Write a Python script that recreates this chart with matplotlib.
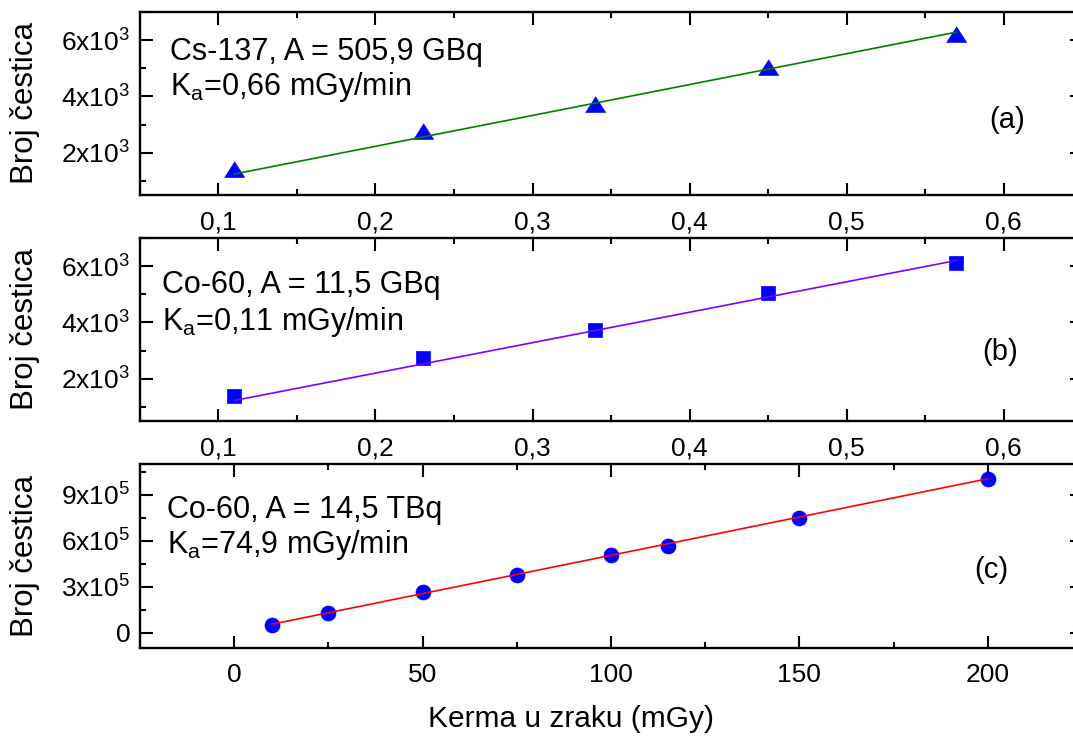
import matplotlib
matplotlib.use("Agg")
import matplotlib.pyplot as plt
from matplotlib.ticker import MultipleLocator, FuncFormatter

plt.rcParams["font.family"] = ["Liberation Sans", "DejaVu Sans"]
plt.rcParams["mathtext.default"] = "regular"

# panel (a): Cs-137
kerma_a = [0.11, 0.23, 0.34, 0.45, 0.57]
counts_a = [1410, 2770, 3750, 5040, 6210]
fit_a = [10960, 38]          # slope, intercept

# panel (b): Co-60, 11,5 GBq
kerma_b = [0.11, 0.23, 0.34, 0.45, 0.57]
counts_b = [1400, 2740, 3720, 5050, 6120]
fit_b = [10810, 39]

# panel (c): Co-60, 14,5 TBq
kerma_c = [10, 25, 50, 75, 100, 115, 150, 200]
counts_c = [52000, 130000, 265000, 378000, 508000, 567000, 750000, 1004000]
fit_c = [4995, 5000]

titles = [
	["Cs-137, A = 505,9 GBq", "K$_a$=0,66 mGy/min"],
	["Co-60, A = 11,5 GBq", "K$_a$=0,11 mGy/min"],
	["Co-60, A = 14,5 TBq", "K$_a$=74,9 mGy/min"],
]
tags = ["(a)", "(b)", "(c)"]

W, H = 1073, 736


def sci_label(v, pos):
	if v == 0:
		return "0"
	exp = 0
	m = abs(v)
	while m >= 10:
		m /= 10.
		exp += 1
	return "%dx10$^{%d}$" % (round(v / 10**exp), exp)


def comma_label(v, pos):
	return ("%.1f" % v).replace(".", ",")


def px_axes(fig, left, top, right, bottom):
	return fig.add_axes([left / W, 1 - bottom / H, (right - left) / W,
		(bottom - top) / H])


def style(ax):
	for s in ax.spines.values():
		s.set_linewidth(1.7)
	ax.tick_params(which = "both", direction = "in", top = True, right = True,
		width = 1.5, labelsize = 19)
	ax.tick_params(which = "major", length = 9)
	ax.tick_params(which = "minor", length = 4.5)
	ax.tick_params(axis = "x", pad = 11)
	ax.tick_params(axis = "y", pad = 7)


fig = plt.figure(figsize = (W / 100, H / 100), dpi = 100)
axes = [
	px_axes(fig, 140, 12, 1082, 195),
	px_axes(fig, 140, 238, 1082, 421),
	px_axes(fig, 140, 464, 1082, 648),
]

tri = [(-1, -0.78), (1, -0.78), (0, 0.78)]
series = [
	(kerma_a, counts_a, fit_a, tri, 14.5, "#008000"),
	(kerma_b, counts_b, fit_b, "s", 9.5, "#8000ff"),
	(kerma_c, counts_c, fit_c, "o", 10.8, "#ff0000"),
]

for i, ax in enumerate(axes):
	x, y, fit, mk, ms, lc = series[i]
	line_x = [x[0], x[-1]]
	ax.plot(line_x, [fit[0] * v + fit[1] for v in line_x], color = lc,
		lw = 1.2, zorder = 3)
	ax.plot(x, y, linestyle = "None", marker = mk, ms = ms, color = "#0000ff",
		mec = "#0000ff", mew = 0.5, zorder = 2)
	style(ax)
	if i < 2:
		ax.set_xlim(0.05, 0.65)
		ax.set_ylim(500, 7000)
		ax.xaxis.set_major_locator(MultipleLocator(0.1))
		ax.xaxis.set_minor_locator(MultipleLocator(0.05))
		ax.xaxis.set_major_formatter(FuncFormatter(comma_label))
		ax.yaxis.set_major_locator(MultipleLocator(2000))
		ax.yaxis.set_minor_locator(MultipleLocator(1000))
	else:
		ax.set_xlim(-25, 225)
		ax.set_ylim(-100000, 1100000)
		ax.xaxis.set_major_locator(MultipleLocator(50))
		ax.xaxis.set_minor_locator(MultipleLocator(25))
		ax.yaxis.set_major_locator(MultipleLocator(300000))
		ax.yaxis.set_minor_locator(MultipleLocator(150000))
	ax.yaxis.set_major_formatter(FuncFormatter(sci_label))

# annotation text, in pixel positions
text_pos = [(170, 52, 87), (162, 285, 322), (167, 510, 545)]
tag_pos = [(1007, 120), (1000, 352), (991, 570)]
for i in range(3):
	x0, y1, y2 = text_pos[i]
	fig.text(x0 / W, 1 - y1 / H, titles[i][0], fontsize = 22, va = "center")
	fig.text(x0 / W, 1 - y2 / H, titles[i][1], fontsize = 22, va = "center")
	fig.text(tag_pos[i][0] / W, 1 - tag_pos[i][1] / H, tags[i], fontsize = 21,
		ha = "center", va = "center")
	y_mid = [103.5, 329.5, 556][i]
	fig.text(25 / W, 1 - y_mid / H, "Broj \u010destica", fontsize = 22.5,
		rotation = 90, ha = "center", va = "center")

fig.text(571 / W, 1 - 719 / H, "Kerma u zraku (mGy)", fontsize = 21.5,
	ha = "center", va = "center")

plt.savefig("out.png", dpi = 100)
